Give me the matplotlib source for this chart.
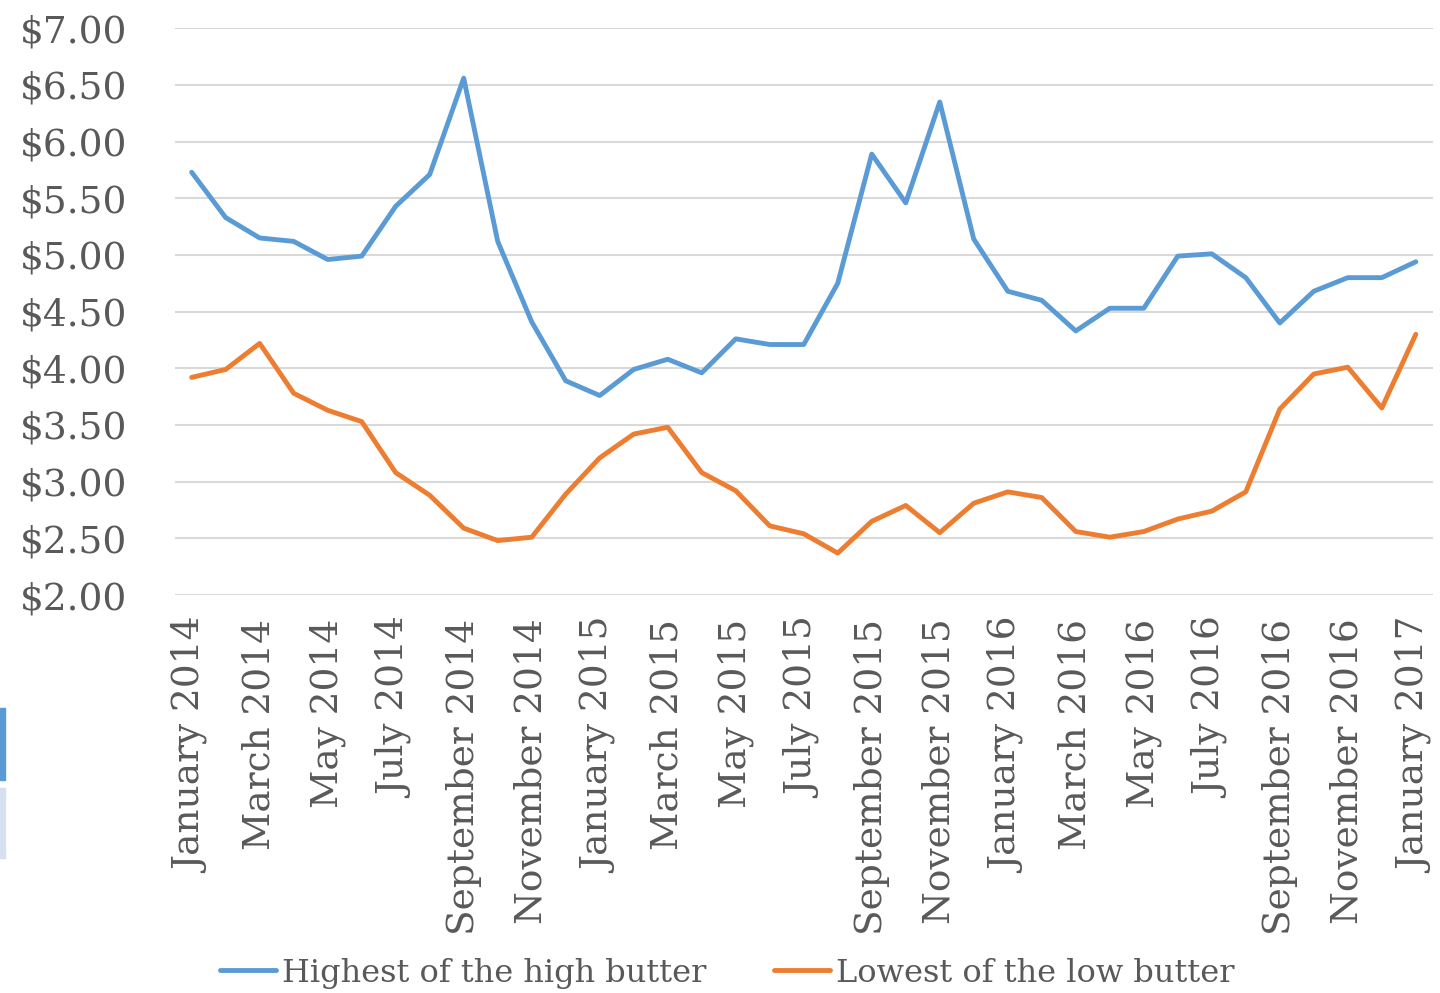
import matplotlib
matplotlib.use("Agg")
import matplotlib.pyplot as plt
from matplotlib.patches import Rectangle

# monthly prices, January 2014 .. January 2017
months = ["January", "February", "March", "April", "May", "June", "July",
          "August", "September", "October", "November", "December"]
labels = [m + " " + str(2014 + i // 12) for i, m in enumerate(months * 3)] + ["January 2017"]

high_butter = [5.73, 5.33, 5.15, 5.12, 4.96, 4.99, 5.43, 5.71, 6.56, 5.12,
               4.41, 3.89, 3.76, 3.99, 4.08, 3.96, 4.26, 4.21, 4.21, 4.75,
               5.89, 5.46, 6.35, 5.14, 4.68, 4.60, 4.33, 4.53, 4.53, 4.99,
               5.01, 4.80, 4.40, 4.68, 4.80, 4.80, 4.94]
low_butter = [3.92, 3.99, 4.22, 3.78, 3.63, 3.53, 3.08, 2.88, 2.59, 2.48,
              2.51, 2.89, 3.21, 3.42, 3.48, 3.08, 2.92, 2.61, 2.54, 2.37,
              2.65, 2.79, 2.55, 2.81, 2.91, 2.86, 2.56, 2.51, 2.56, 2.67,
              2.74, 2.91, 3.64, 3.95, 4.01, 3.65, 4.30]

yticks = [2.0, 2.5, 3.0, 3.5, 4.0, 4.5, 5.0, 5.5, 6.0, 6.5, 7.0]

grey = "#595959"
font = "DejaVu Serif"

fig = plt.figure(figsize=(14.4, 9.93), dpi=100)
ax = fig.add_axes([0.1213, 0.4008, 0.8737, 0.5707])

x = list(range(len(labels)))
ax.plot(x, high_butter, color="#5B9BD5", lw=3.5, label="Highest of the high butter",
        solid_joinstyle="round", solid_capstyle="round")
ax.plot(x, low_butter, color="#ED7D31", lw=3.5, label="Lowest of the low butter",
        solid_joinstyle="round", solid_capstyle="round")

ax.set_xlim(-0.5, len(labels) - 0.5)
ax.set_ylim(2.0, 7.0)
ax.set_yticks(yticks)
ax.set_yticklabels(["$%.2f" % v for v in yticks], fontsize=27, color=grey, family=font)
ax.set_xticks(x[::2])
ax.set_xticklabels(labels[::2], rotation=90, fontsize=27, color=grey, family=font,
                   ha="center", va="top")
ax.tick_params(axis="both", length=0)
ax.tick_params(axis="x", pad=17)
ax.tick_params(axis="y", pad=34)

ax.grid(axis="y", color="#D9D9D9", lw=1.5)
ax.set_axisbelow(True)
for s in ax.spines.values():
    s.set_visible(False)

leg = fig.legend(loc="center", bbox_to_anchor=(0.505, 0.02), ncol=2,
                 frameon=False, handlelength=1.75, handletextpad=0.2,
                 columnspacing=2.1, borderpad=0,
                 prop={"family": font, "size": 23})
for t in leg.get_texts():
    t.set_color(grey)
for h in leg.get_lines():
    h.set_linewidth(3.5)

# stray bars at the left edge
fig.patches.append(Rectangle((0, 1 - 780 / 993), 5 / 1440, 72 / 993,
                             transform=fig.transFigure, color="#5B9BD5"))
fig.patches.append(Rectangle((0, 1 - 858 / 993), 5 / 1440, 70 / 993,
                             transform=fig.transFigure, color="#D6E0F0"))

fig.savefig("out.png", dpi=100)
